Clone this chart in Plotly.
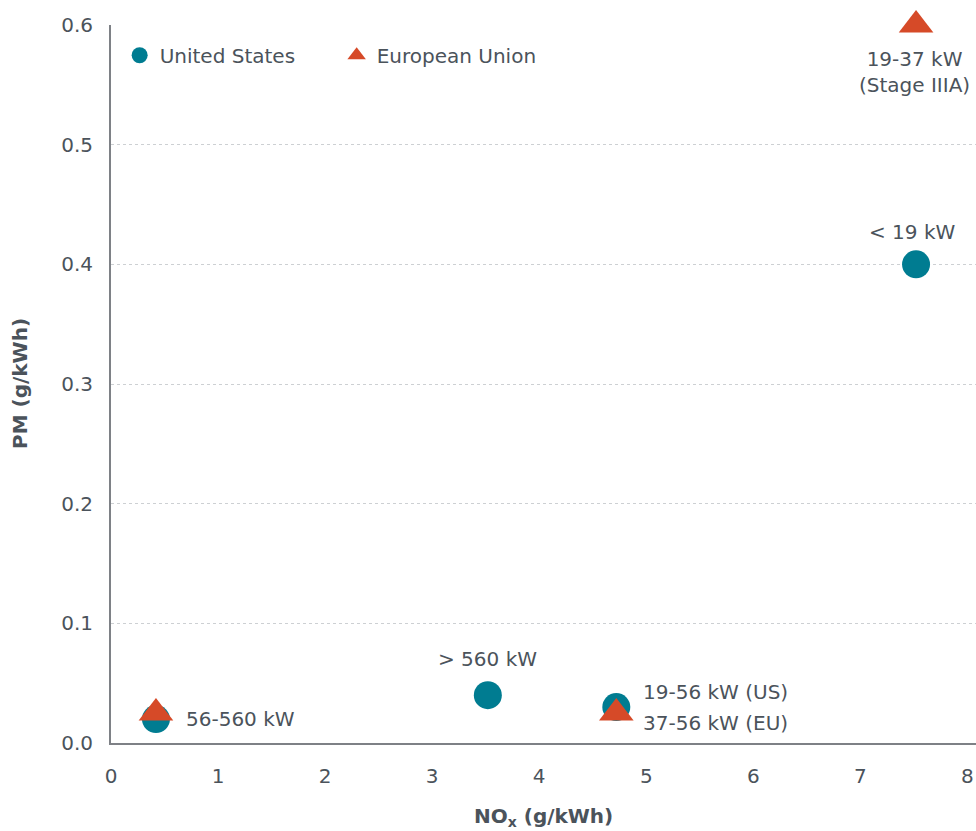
import plotly.graph_objects as go

# Data
us_nox = [0.42, 3.52, 4.72, 7.52]
us_pm = [0.02, 0.04, 0.03, 0.40]
eu_nox = [0.42, 4.72, 7.52]
eu_pm = [0.025, 0.025, 0.60]

x_ticks = [0, 1, 2, 3, 4, 5, 6, 7, 8]
y_ticks = [0.0, 0.1, 0.2, 0.3, 0.4, 0.5, 0.6]
y_tick_text = ["0.0", "0.1", "0.2", "0.3", "0.4", "0.5", "0.6"]

labels = ["56-560 kW", "> 560 kW", "19-56 kW (US)", "37-56 kW (EU)", "< 19 kW", "19-37 kW<br>(Stage IIIA)"]
label_x = [0.42, 3.52, 4.72, 4.72, 7.52, 7.52]
label_y = [0.02, 0.04, 0.03, 0.025, 0.40, 0.60]

x_title = "<b>NO<sub>x</sub> (g/kWh)</b>"
y_title = "<b>PM (g/kWh)</b>"

TEAL = "#007C91"
RED = "#D64A28"
TXT = "#4B535B"
FONT = "DejaVu Sans"
FS = 20

fig = go.Figure()
fig.add_trace(go.Scatter(x=us_nox, y=us_pm, mode="markers", name="United States",
                         marker=dict(symbol="circle", size=28, color=TEAL), cliponaxis=False))
fig.add_trace(go.Scatter(x=eu_nox, y=eu_pm, mode="markers", name="European Union",
                         marker=dict(symbol="triangle-up", size=30, color=RED), cliponaxis=False))

# label placements: (xanchor, yanchor, xshift, yshift)
place = [("left", "middle", 28, 0),
         ("center", "bottom", 0, 22),
         ("left", "middle", 25, 15),
         ("left", "middle", 25, -10),
         ("center", "bottom", -4, 18),
         ("center", "top", -2, -20)]
for t, x, y, (xa, ya, xs, ys) in zip(labels, label_x, label_y, place):
    fig.add_annotation(x=x, y=y, xref="x", yref="y", text=t, showarrow=False,
                       xanchor=xa, yanchor=ya, xshift=xs, yshift=ys,
                       font=dict(family=FONT, size=FS, color=TXT), align="center")

# axis titles
fig.add_annotation(x=0.5, y=0, xref="paper", yref="paper", text=x_title, showarrow=False,
                   xanchor="center", yanchor="middle", yshift=-74,
                   font=dict(family=FONT, size=FS, color=TXT))
fig.add_annotation(x=0, y=0.5, xref="paper", yref="paper", text=y_title, showarrow=False,
                   xanchor="center", yanchor="middle", xshift=-91, textangle=-90,
                   font=dict(family=FONT, size=FS, color=TXT))

fig.update_layout(
    width=976, height=831,
    margin=dict(l=111, r=0, t=25, b=88),
    paper_bgcolor="white", plot_bgcolor="white",
    font=dict(family=FONT, size=FS, color=TXT),
    showlegend=True,
    legend=dict(orientation="h", x=0.01, y=0.985, xanchor="left", yanchor="top",
                font=dict(family=FONT, size=FS, color=TXT), itemwidth=30,
                entrywidth=172, entrywidthmode="pixels",
                bgcolor="rgba(0,0,0,0)"),
    xaxis=dict(range=[0, 8.08], tickvals=x_ticks, showgrid=False, zeroline=False,
               showline=True, linecolor="#7E8186", linewidth=2, ticks="outside",
               ticklen=14, tickcolor="rgba(0,0,0,0)", automargin=False,
               tickfont=dict(family=FONT, size=FS, color=TXT)),
    yaxis=dict(range=[0, 0.6], tickvals=y_ticks, ticktext=y_tick_text, showgrid=True,
               gridcolor="#CDD0D3", griddash="dot", gridwidth=1, zeroline=False,
               showline=True, linecolor="#7E8186", linewidth=2, ticks="outside",
               ticklen=12, tickcolor="rgba(0,0,0,0)", automargin=False,
               tickfont=dict(family=FONT, size=FS, color=TXT)),
)

# remove the default 8px page margin so the 976x831 figure fills the window exactly
fig.write_html("out.html", config={"displayModeBar": False},
               post_script="document.body.style.margin='0';document.body.style.overflow='hidden';")
